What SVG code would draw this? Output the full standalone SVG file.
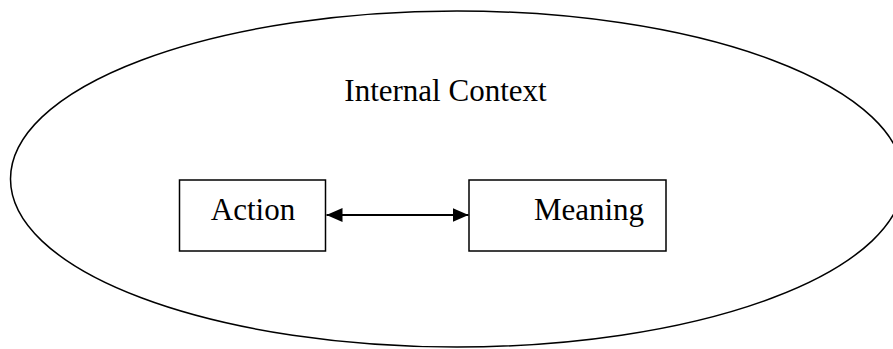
<svg xmlns="http://www.w3.org/2000/svg" width="893" height="349" viewBox="0 0 893 349">
  <style>
    .outline { fill: none; stroke: #000; stroke-width: 1.5; }
    .box { fill: #fff; stroke: #000; stroke-width: 1.5; }
    .label { font-family: "Liberation Serif", "Times New Roman", serif; font-size: 31px; fill: #000; }
    .link { stroke: #000; stroke-width: 2; fill: none; }
  </style>
  <defs>
    <marker id="head" viewBox="0 0 16 14" refX="16" refY="7" markerWidth="16" markerHeight="14" markerUnits="userSpaceOnUse" orient="auto-start-reverse">
      <path d="M0,0 L16,7 L0,14 Z" fill="#000"/>
    </marker>
  </defs>
  <rect width="893" height="349" fill="#fff"/>

  <g id="internal-context">
    <ellipse class="outline" cx="457" cy="179" rx="446.5" ry="168"/>
    <text class="label" x="445.5" y="101" text-anchor="middle">Internal Context</text>
  </g>

  <g id="action">
    <rect class="box" x="179.5" y="180" width="146" height="71"/>
    <text class="label" x="253" y="220" text-anchor="middle">Action</text>
  </g>

  <g id="meaning">
    <rect class="box" x="469" y="180" width="197" height="71"/>
    <text class="label" x="589" y="220" text-anchor="middle">Meaning</text>
  </g>

  <g id="connectors">
    <line class="link" x1="326.5" y1="215" x2="468.5" y2="215" marker-start="url(#head)" marker-end="url(#head)"/>
  </g>
</svg>
